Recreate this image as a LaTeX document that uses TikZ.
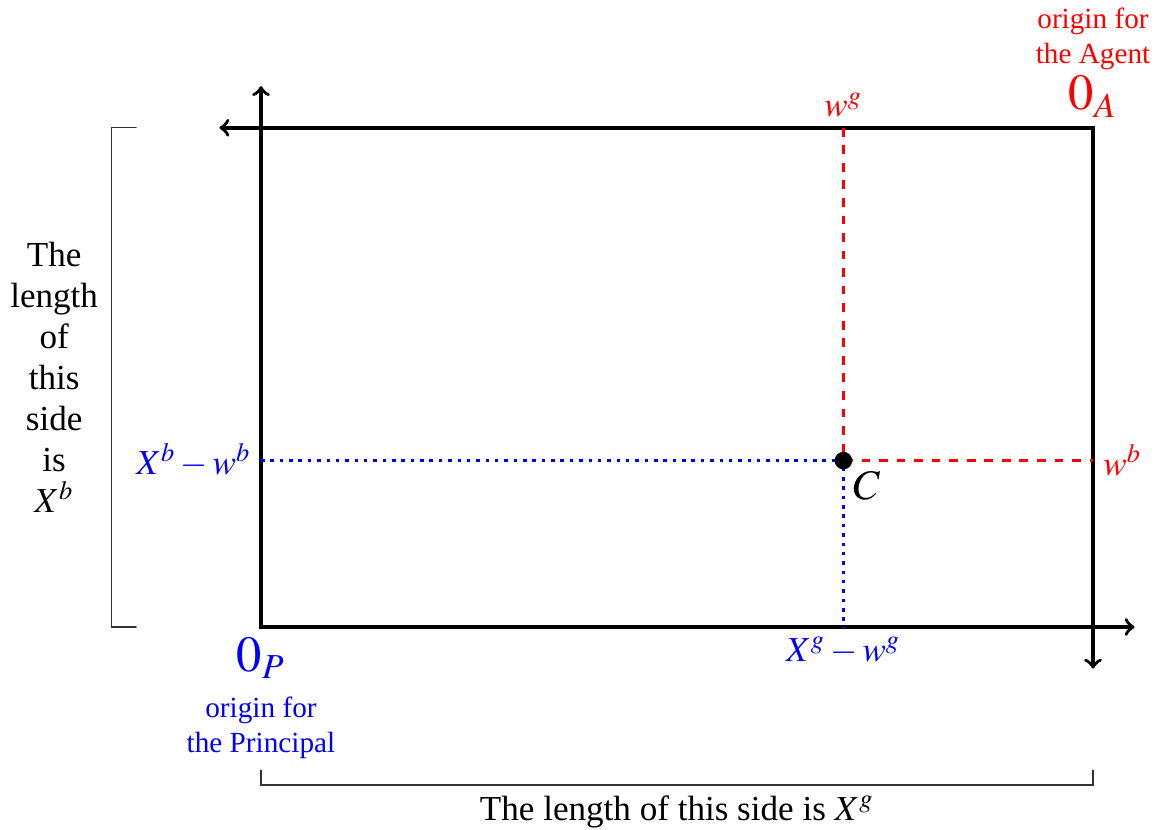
\documentclass[tikz,border=0pt]{standalone}
\usepackage{mathptmx}
\usepackage{fontspec}
\setmainfont{Liberation Serif}
\usepackage{amsmath}
\usetikzlibrary{positioning}

\begin{document}
\begin{tikzpicture}[x=1cm, y=1cm, line cap=round,
  axe/.style={very thick,->},
  pointilles/.style={blue, very thick, line cap=butt, dotted},
  tirets/.style={red, very thick, line cap=butt, dashed},
  crochet/.style={thin, black!80},
  etiquette/.style={font=\large}]

\useasboundingbox (-3.137,-2.428) rectangle (10.781,7.536);

%% Points utiles.

\coordinate (OP)  at (0,0);
\coordinate (OA)  at (10,6);
\coordinate (C)   at (7,2);
\coordinate (Cb)  at (7,0);
\coordinate (Cg)  at (0,2);
\coordinate (Ch)  at (7,6);
\coordinate (Cd)  at (10,2);

%% Le rectangle et les deux paires d'axes.

\draw[very thick] (OP) rectangle (OA);
\draw[axe] (OP) -- (10.5,0);
\draw[axe] (OP) -- (0,6.5);
\draw[axe] (OA) -- (-0.5,6);
\draw[axe] (OA) -- (10,-0.5);

%% Le point C et ses projections.

\draw[tirets] (Ch) -- (C) -- (Cd);
\draw[pointilles] (Cg) -- (C) -- (Cb);
\fill (C) circle (3pt);
\node[anchor=north west, font=\Large] (nomC) at (C) {$C$};

\node[above, red, etiquette] (wg) at (Ch) {$w^g$};
\node[right, red, etiquette] (wb) at (Cd) {$w^b$};
\node[left, blue, etiquette] (Xbwb) at (Cg) {$X^b-w^b$};
\node[below, blue, etiquette] (Xgwg) at (Cb) {$X^g-w^g$};

%% Les origines.

\node[below, blue, font=\LARGE] (zeroP) at (OP) {$0_P$};
\node[below=-1pt of zeroP, blue, align=center] (origP) {origin for\\the Principal};
\node[above, red, font=\LARGE] (zeroA) at (OA) {$0_A$};
\node[above=-5pt of zeroA, red, align=center] (origA) {origin for\\the Agent};

%% Les longueurs des cotes.

\draw[crochet] (-1.5,0) -- (-1.8,0) -- (-1.8,6) -- (-1.5,6);
\node[left=1pt, etiquette, align=center] (longb) at (-1.8,3)
  {The\\length\\of\\this\\side\\is\\$X^b$};
\draw[crochet] (0,-1.72) -- (0,-1.9) -- (10,-1.9) -- (10,-1.72);
\node[below, etiquette] (longg) at (5,-1.9) {The length of this side is $X^g$};

\end{tikzpicture}
\end{document}
